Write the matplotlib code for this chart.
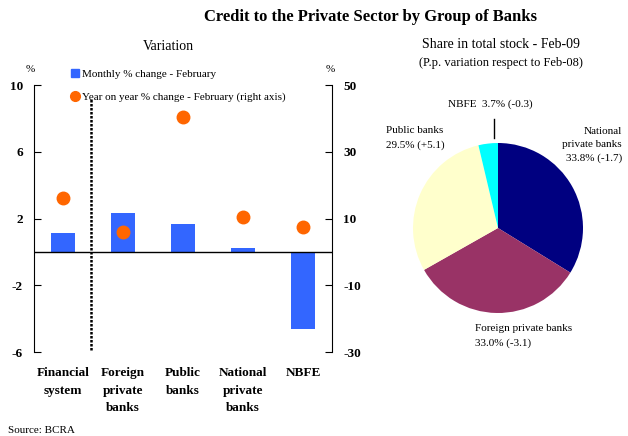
import matplotlib
matplotlib.use('Agg')
import matplotlib.pyplot as plt
from matplotlib.lines import Line2D
import numpy as np

plt.rcParams['font.family'] = ['Liberation Serif', 'DejaVu Serif']
plt.rcParams['axes.unicode_minus'] = False

# Variation by group of banks
groups = ['Financial\nsystem', 'Foreign\nprivate\nbanks', 'Public\nbanks',
          'National\nprivate\nbanks', 'NBFE']
monthly_change = [1.15, 2.35, 1.7, 0.25, -4.6]
yoy_change = [16.0, 6.0, 40.5, 10.5, 7.5]

# Share in total stock, Feb-09 (clockwise from top)
pie_groups = ['National\nprivate banks', 'Foreign private banks', 'Public banks', 'NBFE']
pie_share = [33.8, 33.0, 29.5, 3.7]
pie_pp_change = [-1.7, -3.1, 5.1, -0.3]
pie_colors = ['#000080', '#993366', '#FFFFCC', '#00FFFF']

BLUE = '#3366FF'
ORANGE = '#FF6600'

W, H = 628, 436
fig = plt.figure(figsize=(W / 100, H / 100), dpi=100)


def fx(px):
    return px / W


def fy(py):
    return 1 - py / H


fig.text(fx(370), fy(17), 'Credit to the Private Sector by Group of Banks',
         ha='center', va='center', fontsize=12, fontweight='bold')
fig.text(fx(168), fy(47), 'Variation', ha='center', va='center', fontsize=10)
fig.text(fx(30), fy(70), '%', ha='center', va='center', fontsize=8)
fig.text(fx(330), fy(70), '%', ha='center', va='center', fontsize=8)
fig.text(fx(8), fy(430), 'Source: BCRA', ha='left', va='center', fontsize=8)

# --- bar / dot panel ---
ax = fig.add_axes([fx(34), fy(352), fx(332) - fx(34), (352 - 85) / H])
x = np.arange(len(groups))
ax.bar(x, monthly_change, width=0.4, color=BLUE, zorder=2)
ax.set_xlim(-0.48, len(groups) - 0.52)
ax.set_ylim(-6, 10)
ax.set_yticks([10, 6, 2, -2, -6])
ax.axhline(0, color='black', lw=1, zorder=3)
ax.axvline(0.47, ymin=0.006, ymax=0.95, color='black', lw=1.8,
           linestyle=(0, (1, 0.6)), zorder=3)
ax.set_xticks(x)
ax.set_xticklabels(groups, fontsize=9.5, fontweight='bold', linespacing=1.6)
ax.tick_params(axis='x', length=0, pad=11)
ax.tick_params(axis='y', direction='in', length=5, pad=8, labelsize=9.5)
for lbl in ax.get_yticklabels():
    lbl.set_fontweight('bold')
for side in ['top', 'bottom', 'right']:
    ax.spines[side].set_visible(False)

ax2 = ax.twinx()
ax2.plot(x, yoy_change, 'o', color=ORANGE, markersize=9, zorder=4)
ax2.set_ylim(-30, 50)
ax2.set_yticks([50, 30, 10, -10, -30])
ax2.tick_params(axis='y', direction='in', length=5, pad=8, labelsize=9.5)
for lbl in ax2.get_yticklabels():
    lbl.set_fontweight('bold')
for side in ['top', 'bottom', 'left']:
    ax2.spines[side].set_visible(False)

handles = [
    Line2D([], [], marker='s', color=BLUE, linestyle='none', markersize=6),
    Line2D([], [], marker='o', color=ORANGE, linestyle='none', markersize=7),
]
ax2.legend(handles, ['Monthly % change - February',
                     'Year on year % change - February (right axis)'],
           loc='upper left', bbox_to_anchor=(fx(72), fy(69)),
           bbox_transform=fig.transFigure, frameon=False, fontsize=8,
           handlelength=0.6, handletextpad=0.3, labelspacing=1.2,
           borderpad=0, borderaxespad=0)

# --- pie panel ---
fig.text(fx(501), fy(45), 'Share in total stock - Feb-09',
         ha='center', va='center', fontsize=10)
fig.text(fx(501), fy(63), '(P.p. variation respect to Feb-08)',
         ha='center', va='center', fontsize=9)

cx, cy, r = 498, 228, 85
pax = fig.add_axes([fx(cx - r), fy(cy + r), 2 * r / W, 2 * r / H])
pax.pie(pie_share, colors=pie_colors, startangle=90, counterclock=False,
        wedgeprops=dict(linewidth=0))
pax.set_xlim(-1, 1)
pax.set_ylim(-1, 1)
pax.set_aspect('equal')
pax.axis('off')

lab = [f'{s:.1f}% ({c:+.1f})' for s, c in zip(pie_share, pie_pp_change)]
fig.text(fx(622), fy(145), f'{pie_groups[0]}\n{lab[0]}', ha='right',
         va='center', fontsize=8, linespacing=1.6)
fig.text(fx(475), fy(336), f'{pie_groups[1]}\n{lab[1]}', ha='left',
         va='center', fontsize=8, linespacing=1.6)
fig.text(fx(386), fy(138), f'{pie_groups[2]}\n{lab[2]}', ha='left',
         va='center', fontsize=8, linespacing=1.6)
fig.text(fx(490), fy(104), f'{pie_groups[3]}  {lab[3]}', ha='center',
         va='center', fontsize=8)
fig.add_artist(Line2D([fx(494), fx(494)], [fy(119), fy(138)],
                      color='black', lw=1))

fig.savefig('out.png', dpi=100)
